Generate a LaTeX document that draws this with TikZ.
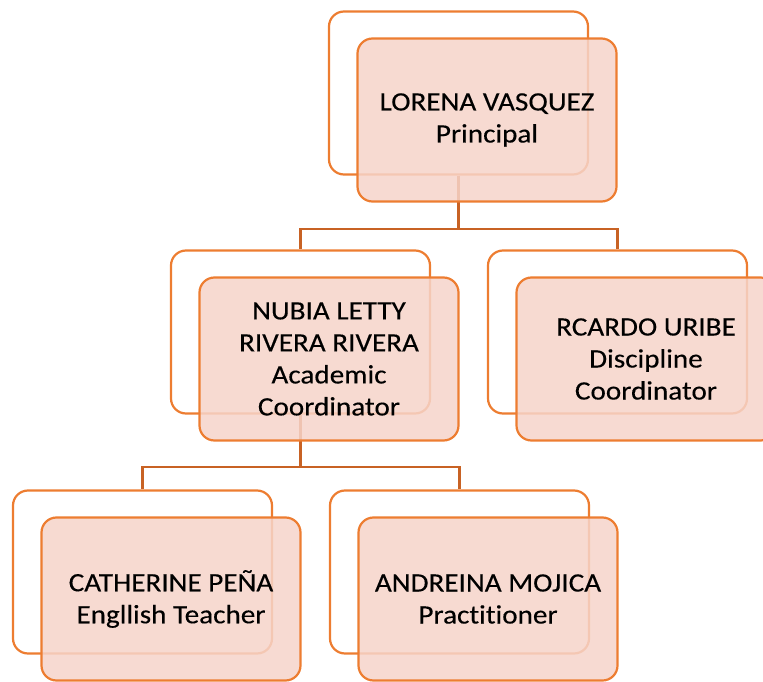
\documentclass[tikz,border=0pt]{standalone}
\usepackage{fontspec}
\setmainfont[FakeStretch=1.1, Ligatures=NoCommon, FakeBold=0.3]{Carlito}
\definecolor{borde}{RGB}{237,125,49}
\definecolor{relleno}{RGB}{246,212,202}
\definecolor{enlace}{RGB}{200,98,36}
\tikzset{
  caja/.style={rectangle, rounded corners=15pt, draw=borde, line width=2.2pt,
    minimum width=259pt, minimum height=163pt, inner sep=0pt},
  atras/.style={caja, fill=white},
  frente/.style={caja, fill=relleno, fill opacity=0.85, text opacity=1,
    align=center, font=\fontsize{26.5}{32}\selectfont},
  enlace/.style={draw=enlace, line width=2.2pt}
}
\begin{document}
\begin{tikzpicture}[x=1pt, y=-1pt]
    \useasboundingbox (0,0) rectangle (763,682);
    %------------Cajas de atras----------
    \foreach \n/\x/\y in {lorena/458.5/93, nubia/300.5/332, ricardo/617.5/332,
                          catherine/142.5/572, andreina/459.5/572} {
        \node[atras] (\n B) at (\x,\y) {};
    }
    %------------Enlaces--------------
    \draw[enlace] (lorenaB.south) -- ++(0,53) coordinate (k1) -| (nubiaB.north);
    \draw[enlace] (k1) -| (ricardoB.north);
    \draw[enlace] (nubiaB.south) -- ++(0,52) coordinate (k2) -| (catherineB.north);
    \draw[enlace] (k2) -| (andreinaB.north);
    %------------Cajas de frente----------
    \node[frente] (lorena) at ([shift={(28.5,27)}]lorenaB) {LORENA VASQUEZ\\Principal};
    \node[frente] (nubia) at ([shift={(28.5,27)}]nubiaB) {NUBIA LETTY\\RIVERA RIVERA\\Academic\\Coordinator};
    \node[frente] (ricardo) at ([shift={(28.5,27)}]ricardoB) {RCARDO URIBE\\Discipline\\Coordinator};
    \node[frente] (catherine) at ([shift={(28.5,27)}]catherineB) {CATHERINE PEÑA\\Engllish Teacher};
    \node[frente] (andreina) at ([shift={(28.5,27)}]andreinaB) {ANDREINA MOJICA\\Practitioner};
\end{tikzpicture}
\end{document}
